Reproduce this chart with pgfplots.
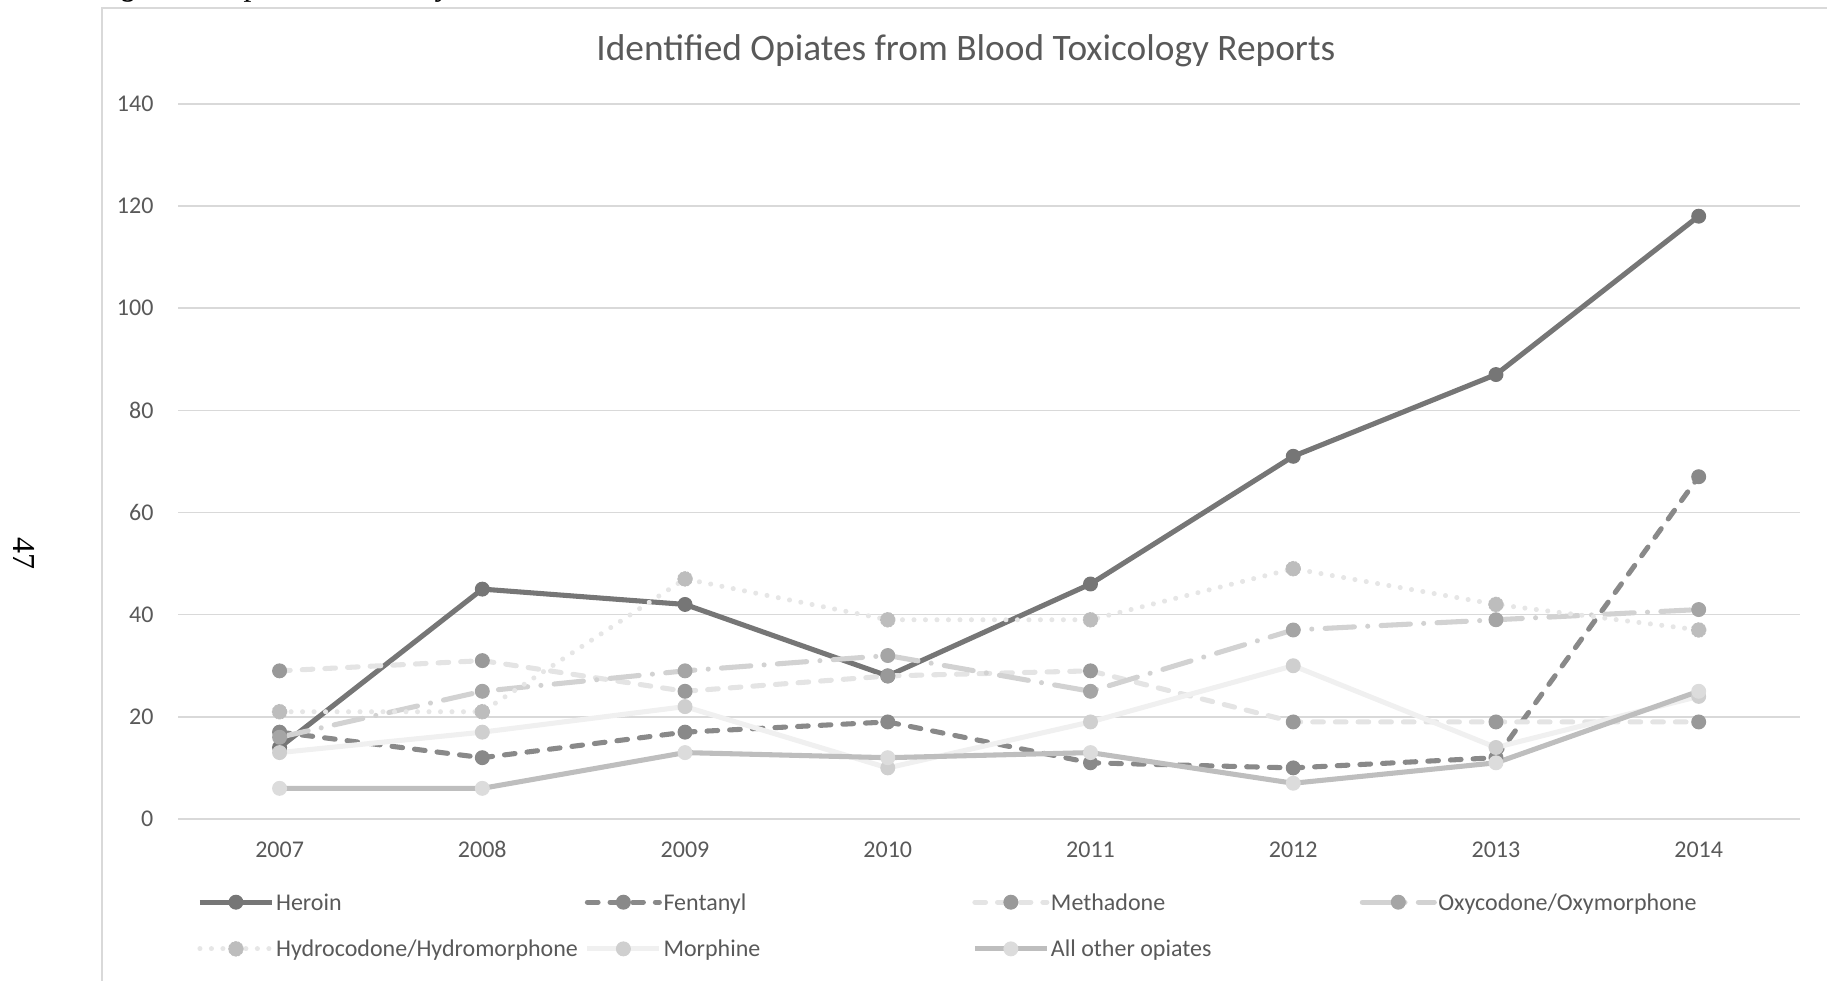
\documentclass[border=0pt]{standalone}
\usepackage{fontspec}
\setmainfont{Carlito}
\newfontfamily\timesfont{Liberation Serif}
\usepackage{pgfplots}
\pgfplotsset{compat=1.18}
\usetikzlibrary{plotmarks}

\definecolor{textgray}{HTML}{595959}
\definecolor{gridgray}{HTML}{D9D9D9}
\definecolor{heroinC}{HTML}{767676}
\definecolor{fentC}{HTML}{898989}
\definecolor{methL}{HTML}{E4E4E4}
\definecolor{methM}{HTML}{999999}
\definecolor{oxyL}{HTML}{D2D2D2}
\definecolor{oxyM}{HTML}{A5A5A5}
\definecolor{hydL}{HTML}{E6E6E6}
\definecolor{hydM}{HTML}{BDBDBD}
\definecolor{morL}{HTML}{F0F0F0}
\definecolor{morM}{HTML}{CFCFCF}
\definecolor{othL}{HTML}{BEBEBE}
\definecolor{othM}{HTML}{DCDCDC}

\newcommand{\lt}[1]{\makebox[115.8pt][l]{#1}}

\begin{document}
\begin{tikzpicture}
\useasboundingbox (0,0) rectangle (685.125pt,367.5pt);
% chart area border (cut by page)
\draw[color=gridgray, line width=0.7pt] (38.2pt,-5pt) -- (38.2pt,364.65pt) -- (692pt,364.65pt);
% page caption fragment (cut by the page top) and page number
\node[anchor=base west, inner sep=0pt, font=\timesfont\fontsize{12}{14}\selectfont\itshape] at (35.1pt,369.2pt) {Figure 2. Opiates Found by Year};
\node[rotate=-90, inner sep=0pt, font=\timesfont\fontsize{12}{14}\selectfont] at (9pt,160.1pt) {47};
% title
\node[anchor=base, inner sep=0pt, text=textgray, font=\fontsize{14}{17}\selectfont] at (362.2pt,344.7pt) {Identified Opiates from Blood Toxicology Reports};

\begin{axis}[
  at={(66.83pt,60.375pt)}, anchor=south west,
  scale only axis, width=608.2pt, height=268.2pt,
  xmin=-0.5, xmax=7.5, ymin=0, ymax=140,
  xtick={0,1,2,3,4,5,6,7},
  xticklabels={2007,2008,2009,2010,2011,2012,2013,2014},
  ytick={0,20,40,60,80,100,120,140},
  axis line style={draw=none},
  major tick length=0pt,
  ymajorgrids,
  grid style={color=gridgray, line width=0.6pt},
  /pgf/number format/assume math mode=true,
  yticklabel style={anchor=east, inner sep=0pt, xshift=-9.1pt, text=textgray, font=\fontsize{9}{11}\selectfont},
  xticklabel style={anchor=base, inner sep=0pt, yshift=-14.4pt, text=textgray, font=\fontsize{9}{11}\selectfont},
  legend columns=4,
  legend cell align=left,
  legend style={at={(0.0115,-0.1044)}, anchor=north west, draw=none, fill=none, inner sep=0pt,
    font=\fontsize{9}{11}\selectfont, text=textgray,
    nodes={inner sep=0pt, text height=6pt, text depth=0pt},
    row sep=11.5pt,
    /tikz/every odd column/.append style={column sep=0.6pt}},
  legend image code/.code={\draw[mark repeat=2,mark phase=2,#1] plot coordinates {(0pt,0pt) (13.5pt,0pt) (27pt,0pt)};},
  every axis plot/.append style={line width=1.9pt, mark size=2.6pt},
  clip=false,
]
\addplot[color=heroinC, solid, mark=*, mark options={solid, fill=heroinC, draw=heroinC, line width=0.4pt}]
  coordinates {(0,14) (1,45) (2,42) (3,28) (4,46) (5,71) (6,87) (7,118)};
\addlegendentry{\lt{Heroin}}
\addplot[color=fentC, line cap=round, dash pattern=on 4pt off 4.5pt, mark=*, mark options={solid, fill=fentC, draw=fentC, line width=0.4pt}]
  coordinates {(0,17) (1,12) (2,17) (3,19) (4,11) (5,10) (6,12) (7,67)};
\addlegendentry{\lt{Fentanyl}}
\addplot[color=methL, line cap=round, dash pattern=on 4pt off 4.5pt, mark=*, mark options={solid, fill=methM, draw=methM, line width=0.4pt}]
  coordinates {(0,29) (1,31) (2,25) (3,28) (4,29) (5,19) (6,19) (7,19)};
\addlegendentry{\lt{Methadone}}
\addplot[color=oxyL, line cap=round, dash pattern=on 11pt off 5pt on 0.01pt off 5pt, mark=*, mark options={solid, fill=oxyM, draw=oxyM, line width=0.4pt}]
  coordinates {(0,16) (1,25) (2,29) (3,32) (4,25) (5,37) (6,39) (7,41)};
\addlegendentry{\lt{Oxycodone/Oxymorphone}}
\addplot[color=hydL, line cap=round, dash pattern=on 0.01pt off 4.3pt, mark=*, mark options={solid, fill=hydM, draw=hydM, line width=0.6pt, dash pattern=on 0.8pt off 0.5pt}]
  coordinates {(0,21) (1,21) (2,47) (3,39) (4,39) (5,49) (6,42) (7,37)};
\addlegendentry{\lt{Hydrocodone/Hydromorphone}}
\addplot[color=morL, solid, mark=*, mark options={solid, fill=morM, draw=morM, line width=0.4pt}]
  coordinates {(0,13) (1,17) (2,22) (3,10) (4,19) (5,30) (6,14) (7,24)};
\addlegendentry{\lt{Morphine}}
\addplot[color=othL, solid, mark=*, mark options={solid, fill=othM, draw=othM, line width=0.4pt}]
  coordinates {(0,6) (1,6) (2,13) (3,12) (4,13) (5,7) (6,11) (7,25)};
\addlegendentry{\lt{All other opiates}}
\end{axis}
\end{tikzpicture}
\end{document}
